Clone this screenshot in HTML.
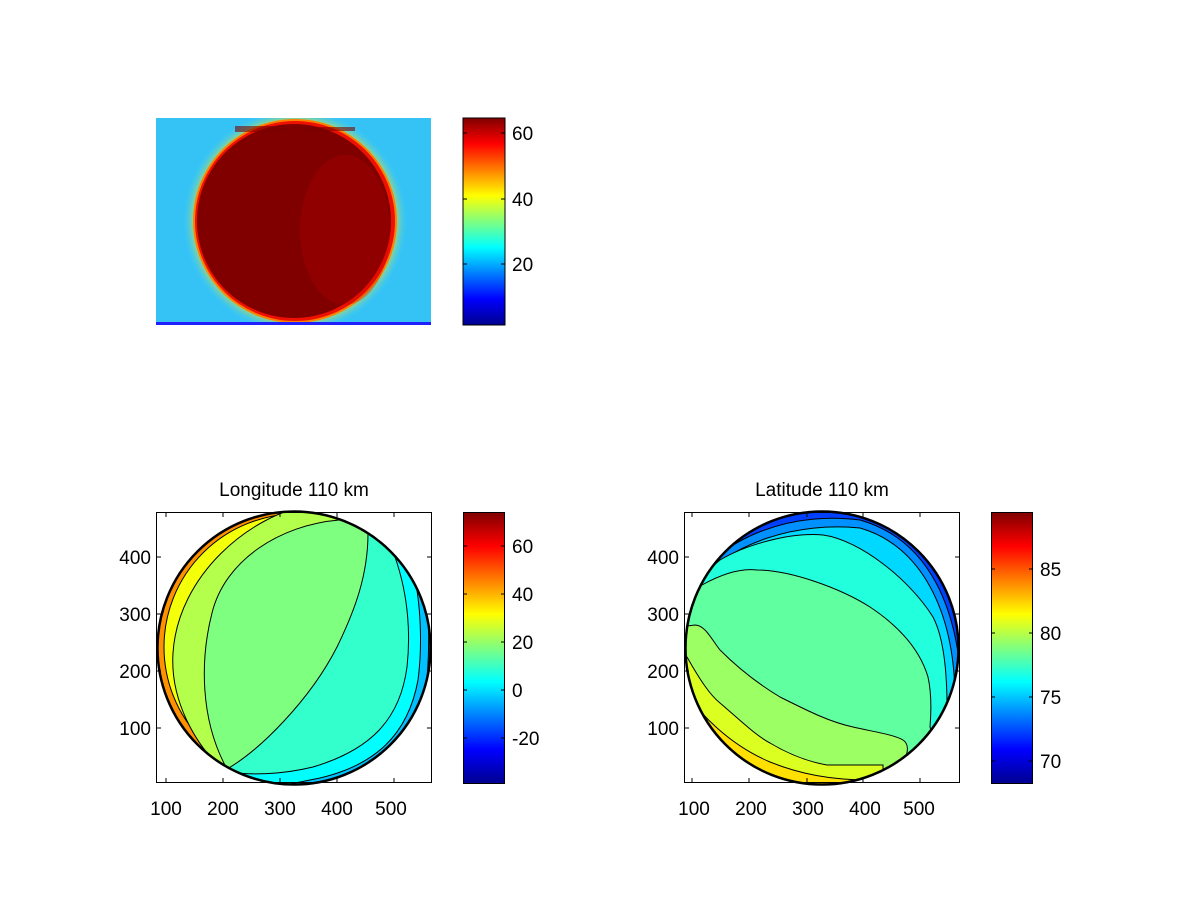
<!DOCTYPE html>
<html><head><meta charset="utf-8"><style>
html,body{margin:0;padding:0;background:#fff;}
svg{display:block;font-family:"Liberation Sans",sans-serif;}
</style></head><body>
<svg width="1200" height="900" viewBox="0 0 1200 900" xmlns="http://www.w3.org/2000/svg">
<defs>
<linearGradient id="jet" x1="0" y1="1" x2="0" y2="0">
<stop offset="0" stop-color="#00008f"/><stop offset="0.125" stop-color="#0000ff"/>
<stop offset="0.375" stop-color="#00ffff"/><stop offset="0.625" stop-color="#ffff00"/>
<stop offset="0.875" stop-color="#ff0000"/><stop offset="1" stop-color="#800000"/>
</linearGradient>
<clipPath id="c1"><circle cx="294" cy="648" r="137"/></clipPath>
<clipPath id="c2"><circle cx="822" cy="648" r="137"/></clipPath>
<clipPath id="img"><rect x="156" y="118" width="275" height="207"/></clipPath>
<clipPath id="moon"><rect x="150" y="110" width="300" height="212"/></clipPath>
<radialGradient id="halo" cx="0.5" cy="0.5" r="0.5">
<stop offset="0.86" stop-color="#ffe000"/><stop offset="1" stop-color="#40d0ff" stop-opacity="0"/>
</radialGradient>
</defs>

<!-- Top image -->
<g clip-path="url(#img)">
<rect x="156" y="118" width="275" height="207" fill="#35c3f5"/>
<g clip-path="url(#moon)">
<circle cx="295" cy="221" r="112" fill="url(#halo)"/>
<circle cx="295" cy="221" r="102" fill="#ff8000"/>
<circle cx="295" cy="221" r="100" fill="#ee1000"/>
<circle cx="294" cy="221" r="97" fill="#800000"/>
<ellipse cx="345" cy="230" rx="45" ry="75" fill="#c00000" opacity="0.25"/>
</g>
<rect x="235" y="126" width="50" height="6" fill="#7a0000" opacity="0.6"/>
<rect x="300" y="127" width="55" height="4" fill="#7a0000" opacity="0.6"/>
<rect x="156" y="322" width="275" height="3" fill="#2020ff"/>
</g>
<rect x="463" y="118" width="42" height="207" fill="url(#jet)" stroke="#000" stroke-width="1"/>
<g stroke="#000" stroke-width="1">
<line x1="463" y1="133" x2="467" y2="133"/><line x1="501" y1="133" x2="505" y2="133"/>
<line x1="463" y1="199" x2="467" y2="199"/><line x1="501" y1="199" x2="505" y2="199"/>
<line x1="463" y1="264" x2="467" y2="264"/><line x1="501" y1="264" x2="505" y2="264"/>
</g>
<g font-size="19" fill="#000">
<text x="512" y="140">60</text><text x="512" y="206">40</text><text x="512" y="271">20</text>
</g>

<!-- Bottom left -->
<text x="294" y="496" font-size="19" text-anchor="middle">Longitude 110 km</text>
<g clip-path="url(#c1)">
<rect x="150" y="500" width="150" height="300" fill="#ff9000"/>
<rect x="294" y="500" width="150" height="300" fill="#0070ff"/>
<circle cx="297" cy="647" r="133" fill="#f4ff0a" stroke="#000"/>
<path d="M310,505 C250,515 178,575 173,653 C170,700 195,745 225,772 L240,800 L600,800 L600,500Z" fill="#b4ff4b" stroke="#000" stroke-width="1"/>
<path d="M339,500 L339,520 C280,525 225,560 212,613 C200,660 200,720 227,769 L300,800 L600,800 L600,500Z" fill="#7fff7f" stroke="#000" stroke-width="1"/>
<path d="M368,500 L368,533 C368,575 355,610 337,647 C310,700 260,750 227,769 L200,800 L600,800 L600,500Z" fill="#33ffcc" stroke="#000" stroke-width="1"/>
<path d="M393,500 L395,557 C410,600 410,640 407,667 C400,720 370,750 313,767 C280,775 250,775 230,772 L230,800 L600,800 L600,500Z" fill="#00ffff" stroke="#000" stroke-width="1"/>
<path d="M408,500 L412,565 C422,605 422,650 418,680 C408,735 375,765 320,778 L260,790 L260,800 L600,800 L600,500Z" fill="#00c0ff" stroke="#000" stroke-width="1"/>
<path d="M422,500 L425,585 C431,625 429,680 423,702 C411,752 381,777 331,788 L600,800 L600,500Z" fill="#0090ff" stroke="#000" stroke-width="1"/>
</g>
<circle cx="294" cy="648" r="136.5" fill="none" stroke="#000" stroke-width="2.5"/>
<rect x="156.5" y="512.5" width="275" height="270" fill="none" stroke="#000"/>
<g stroke="#000" stroke-width="1">
<line x1="156" y1="557" x2="161" y2="557"/><line x1="427" y1="557" x2="432" y2="557"/>
<line x1="156" y1="614" x2="161" y2="614"/><line x1="427" y1="614" x2="432" y2="614"/>
<line x1="156" y1="671" x2="161" y2="671"/><line x1="427" y1="671" x2="432" y2="671"/>
<line x1="156" y1="728" x2="161" y2="728"/><line x1="427" y1="728" x2="432" y2="728"/>
<line x1="166" y1="783" x2="166" y2="778"/><line x1="166" y1="512" x2="166" y2="517"/>
<line x1="223" y1="783" x2="223" y2="778"/><line x1="223" y1="512" x2="223" y2="517"/>
<line x1="280" y1="783" x2="280" y2="778"/><line x1="280" y1="512" x2="280" y2="517"/>
<line x1="337" y1="783" x2="337" y2="778"/><line x1="337" y1="512" x2="337" y2="517"/>
<line x1="394" y1="783" x2="394" y2="778"/><line x1="394" y1="512" x2="394" y2="517"/>
</g>
<g font-size="19" fill="#000">
<text x="151" y="564" text-anchor="end">400</text><text x="151" y="621" text-anchor="end">300</text>
<text x="151" y="678" text-anchor="end">200</text><text x="151" y="735" text-anchor="end">100</text>
<g text-anchor="middle">
<text x="166" y="815">100</text><text x="223" y="815">200</text><text x="280" y="815">300</text>
<text x="337" y="815">400</text><text x="391" y="815">500</text></g>
</g>
<rect x="463.5" y="512.5" width="41" height="271" fill="url(#jet)" stroke="#000"/>
<g stroke="#000">
<line x1="463" y1="546" x2="467" y2="546"/><line x1="501" y1="546" x2="505" y2="546"/>
<line x1="463" y1="594" x2="467" y2="594"/><line x1="501" y1="594" x2="505" y2="594"/>
<line x1="463" y1="642" x2="467" y2="642"/><line x1="501" y1="642" x2="505" y2="642"/>
<line x1="463" y1="690" x2="467" y2="690"/><line x1="501" y1="690" x2="505" y2="690"/>
<line x1="463" y1="738" x2="467" y2="738"/><line x1="501" y1="738" x2="505" y2="738"/>
</g>
<g font-size="19" fill="#000">
<text x="512" y="553">60</text><text x="512" y="601">40</text><text x="512" y="649">20</text>
<text x="512" y="697">0</text><text x="512" y="745">-20</text>
</g>

<!-- Bottom right -->
<text x="822" y="496" font-size="19" text-anchor="middle">Latitude 110 km</text>
<g clip-path="url(#c2)">
<rect x="680" y="500" width="290" height="300" fill="#0040ff"/>
<path d="M680,600 C720,530 800,512 860,520 C930,540 960,610 962,700 L962,800 L680,800Z" fill="#0090ff" stroke="#000"/>
<path d="M690,590 C730,540 800,522 860,528 C920,545 955,610 955,700 L955,800 L680,800Z" fill="#00d8ff" stroke="#000"/>
<path d="M690,585 L720,560 C745,545 790,532 823,535 C860,540 910,580 933,617 C945,640 947,680 947,707 L947,800 L680,800Z" fill="#22ffdd" stroke="#000"/>
<path d="M680,600 L702,585 C720,575 740,568 757,570 C790,570 840,588 870,607 C900,627 920,650 928,677 C932,695 931,715 930,727 L960,800 L680,800Z" fill="#60ff9f" stroke="#000"/>
<path d="M680,627 L695,625 C705,625 712,640 720,650 C740,670 760,685 780,697 C810,712 830,722 853,727 C875,732 895,735 903,740 C909,744 908,752 905,758 L905,800 L680,800Z" fill="#9cff63" stroke="#000"/>
<path d="M680,650 L687,657 C700,680 710,695 720,703 C740,720 755,735 770,743 C790,755 810,762 827,765 L883,765 L883,800 L680,800Z" fill="#dcff22" stroke="#000"/>
<path d="M680,685 C700,715 730,745 770,762 C800,774 830,780 870,780 L870,800 L680,800Z" fill="#ffe000" stroke="#000"/>
<path d="M680,712 C700,742 730,768 770,780 L800,800 L680,800Z" fill="#ff9000" stroke="#000"/>
</g>
<circle cx="822" cy="648" r="136.5" fill="none" stroke="#000" stroke-width="2.5"/>
<rect x="684.5" y="512.5" width="275" height="270" fill="none" stroke="#000"/>
<g stroke="#000" stroke-width="1">
<line x1="684" y1="557" x2="689" y2="557"/><line x1="955" y1="557" x2="960" y2="557"/>
<line x1="684" y1="614" x2="689" y2="614"/><line x1="955" y1="614" x2="960" y2="614"/>
<line x1="684" y1="671" x2="689" y2="671"/><line x1="955" y1="671" x2="960" y2="671"/>
<line x1="684" y1="728" x2="689" y2="728"/><line x1="955" y1="728" x2="960" y2="728"/>
<line x1="692" y1="783" x2="692" y2="778"/><line x1="692" y1="512" x2="692" y2="517"/>
<line x1="749" y1="783" x2="749" y2="778"/><line x1="749" y1="512" x2="749" y2="517"/>
<line x1="807" y1="783" x2="807" y2="778"/><line x1="807" y1="512" x2="807" y2="517"/>
<line x1="863" y1="783" x2="863" y2="778"/><line x1="863" y1="512" x2="863" y2="517"/>
<line x1="920" y1="783" x2="920" y2="778"/><line x1="920" y1="512" x2="920" y2="517"/>
</g>
<g font-size="19" fill="#000">
<text x="679" y="564" text-anchor="end">400</text><text x="679" y="621" text-anchor="end">300</text>
<text x="679" y="678" text-anchor="end">200</text><text x="679" y="735" text-anchor="end">100</text>
<g text-anchor="middle">
<text x="694" y="815">100</text><text x="751" y="815">200</text><text x="808" y="815">300</text>
<text x="865" y="815">400</text><text x="919" y="815">500</text></g>
</g>
<rect x="991.5" y="512.5" width="41" height="271" fill="url(#jet)" stroke="#000"/>
<g stroke="#000">
<line x1="991" y1="569" x2="995" y2="569"/><line x1="1029" y1="569" x2="1033" y2="569"/>
<line x1="991" y1="633" x2="995" y2="633"/><line x1="1029" y1="633" x2="1033" y2="633"/>
<line x1="991" y1="697" x2="995" y2="697"/><line x1="1029" y1="697" x2="1033" y2="697"/>
<line x1="991" y1="761" x2="995" y2="761"/><line x1="1029" y1="761" x2="1033" y2="761"/>
</g>
<g font-size="19" fill="#000">
<text x="1040" y="576">85</text><text x="1040" y="640">80</text><text x="1040" y="704">75</text><text x="1040" y="768">70</text>
</g>
</svg>
</body></html>
